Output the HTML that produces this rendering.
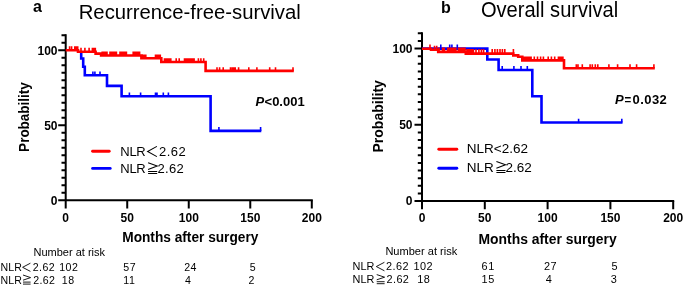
<!DOCTYPE html><html><head><meta charset="utf-8"><style>html,body{margin:0;padding:0;background:#fff;overflow:hidden;}svg{display:block;will-change:transform;filter:blur(0.35px);}text{font-family:"Liberation Sans", sans-serif;fill:#000;}</style></head><body>
<svg width="685" height="286" viewBox="0 0 685 286">
<path d="M65.70,34.20 V208.50" stroke="#000" stroke-width="2.0" fill="none"/>
<path d="M58.20,200.20 H65.70 M61.50,192.70 H65.70 M61.50,185.20 H65.70 M61.50,177.70 H65.70 M61.50,170.20 H65.70 M61.50,162.70 H65.70 M61.50,155.20 H65.70 M61.50,147.70 H65.70 M61.50,140.20 H65.70 M61.50,132.70 H65.70 M58.20,125.20 H65.70 M61.50,117.70 H65.70 M61.50,110.20 H65.70 M61.50,102.70 H65.70 M61.50,95.20 H65.70 M61.50,87.70 H65.70 M61.50,80.20 H65.70 M61.50,72.70 H65.70 M61.50,65.20 H65.70 M61.50,57.70 H65.70 M58.20,50.20 H65.70 M61.50,42.70 H65.70 M61.50,35.20 H65.70" stroke="#000" stroke-width="2.0" fill="none"/>
<path d="M65.70,200.20 H312.80" stroke="#000" stroke-width="2.0" fill="none"/>
<path d="M127.23,200.20 V208.50 M188.75,200.20 V208.50 M250.27,200.20 V208.50 M311.80,200.20 V208.50" stroke="#000" stroke-width="2.0" fill="none"/>
<text x="57.5" y="204.5" font-size="12" font-weight="bold" text-anchor="end"  style="">0</text>
<text x="57.5" y="129.5" font-size="12" font-weight="bold" text-anchor="end"  style="">50</text>
<text x="57.5" y="54.5" font-size="12" font-weight="bold" text-anchor="end"  style="">100</text>
<text x="65.7" y="221.6" font-size="12" font-weight="bold" text-anchor="middle"  style="">0</text>
<text x="127.2" y="221.6" font-size="12" font-weight="bold" text-anchor="middle"  style="">50</text>
<text x="188.8" y="221.6" font-size="12" font-weight="bold" text-anchor="middle"  style="">100</text>
<text x="250.3" y="221.6" font-size="12" font-weight="bold" text-anchor="middle"  style="">150</text>
<text x="311.8" y="221.6" font-size="12" font-weight="bold" text-anchor="middle"  style="">200</text>
<path d="M422.00,32.36 V209.30" stroke="#000" stroke-width="2.0" fill="none"/>
<path d="M414.50,201.00 H422.00 M417.80,193.38 H422.00 M417.80,185.76 H422.00 M417.80,178.14 H422.00 M417.80,170.52 H422.00 M417.80,162.90 H422.00 M417.80,155.28 H422.00 M417.80,147.66 H422.00 M417.80,140.04 H422.00 M417.80,132.42 H422.00 M414.50,124.80 H422.00 M417.80,117.18 H422.00 M417.80,109.56 H422.00 M417.80,101.94 H422.00 M417.80,94.32 H422.00 M417.80,86.70 H422.00 M417.80,79.08 H422.00 M417.80,71.46 H422.00 M417.80,63.84 H422.00 M417.80,56.22 H422.00 M414.50,48.60 H422.00 M417.80,40.98 H422.00 M417.80,33.36 H422.00" stroke="#000" stroke-width="2.0" fill="none"/>
<path d="M422.00,201.00 H674.20" stroke="#000" stroke-width="2.0" fill="none"/>
<path d="M484.80,201.00 V209.30 M547.60,201.00 V209.30 M610.40,201.00 V209.30 M673.20,201.00 V209.30" stroke="#000" stroke-width="2.0" fill="none"/>
<text x="412.5" y="205.3" font-size="12" font-weight="bold" text-anchor="end"  style="">0</text>
<text x="412.5" y="129.1" font-size="12" font-weight="bold" text-anchor="end"  style="">50</text>
<text x="412.5" y="52.9" font-size="12" font-weight="bold" text-anchor="end"  style="">100</text>
<text x="422.0" y="222.4" font-size="12" font-weight="bold" text-anchor="middle"  style="">0</text>
<text x="484.8" y="222.4" font-size="12" font-weight="bold" text-anchor="middle"  style="">50</text>
<text x="547.6" y="222.4" font-size="12" font-weight="bold" text-anchor="middle"  style="">100</text>
<text x="610.4" y="222.4" font-size="12" font-weight="bold" text-anchor="middle"  style="">150</text>
<text x="673.2" y="222.4" font-size="12" font-weight="bold" text-anchor="middle"  style="">200</text>
<path d="M81.20,52.00 L81.20,58.50 L83.20,58.50 L83.20,66.80 L84.80,66.80 L84.80,75.30 L107.00,75.30 L107.00,85.90 L121.60,85.90 L121.60,96.30 L210.60,96.30 L210.60,130.90 L261.30,130.90" fill="none" stroke="#0000ff" stroke-width="2.6" stroke-linejoin="miter" stroke-linecap="butt"/>
<path d="M92.90,75.30 V71.40 M94.90,75.30 V71.40 M100.00,75.30 V71.40" fill="none" stroke="#0000ff" stroke-width="1.6"/>
<path d="M129.40,96.30 V92.40 M140.60,96.30 V92.40 M155.50,96.30 V92.40 M157.00,96.30 V92.40 M163.30,96.30 V92.40 M168.40,96.30 V92.40" fill="none" stroke="#0000ff" stroke-width="1.6"/>
<path d="M218.90,130.90 V127.00 M260.60,130.90 V127.00" fill="none" stroke="#0000ff" stroke-width="1.6"/>
<path d="M65.70,50.30 L78.00,50.30 L78.00,51.80 L95.60,51.80 L95.60,53.60 L101.10,53.60 L101.10,55.50 L141.40,55.50 L141.40,58.30 L161.30,58.30 L161.30,62.00 L205.60,62.00 L205.60,70.90 L293.80,70.90" fill="none" stroke="#ff0000" stroke-width="2.6" stroke-linejoin="miter" stroke-linecap="butt"/>
<path d="M69.60,50.30 V46.30 M71.60,50.30 V46.30 M74.80,50.30 V46.30 M76.30,50.30 V46.30 M77.70,50.30 V46.30" fill="none" stroke="#ff0000" stroke-width="1.6"/>
<path d="M81.00,51.80 V47.80 M84.90,51.80 V47.80 M89.10,51.80 V47.80 M92.40,51.80 V47.80 M93.90,51.80 V47.80 M95.30,51.80 V47.80" fill="none" stroke="#ff0000" stroke-width="1.6"/>
<path d="M102.20,55.50 V51.50 M103.80,55.50 V51.50 M105.40,55.50 V51.50 M107.00,55.50 V51.50 M110.00,55.50 V51.50 M111.60,55.50 V51.50 M113.20,55.50 V51.50 M114.80,55.50 V51.50 M116.40,55.50 V51.50 M120.00,55.50 V51.50 M121.60,55.50 V51.50 M123.20,55.50 V51.50 M124.80,55.50 V51.50 M126.40,55.50 V51.50 M133.20,55.50 V51.50 M134.80,55.50 V51.50 M136.40,55.50 V51.50 M138.00,55.50 V51.50 M139.60,55.50 V51.50" fill="none" stroke="#ff0000" stroke-width="1.6"/>
<path d="M142.60,58.30 V54.50 M144.20,58.30 V54.50 M145.80,58.30 V54.50 M155.50,58.30 V54.50 M157.10,58.30 V54.50 M158.70,58.30 V54.50 M160.30,58.30 V54.50" fill="none" stroke="#ff0000" stroke-width="1.6"/>
<path d="M164.50,62.00 V58.20 M166.10,62.00 V58.20 M167.70,62.00 V58.20 M169.30,62.00 V58.20 M170.80,62.00 V58.20 M176.20,62.00 V58.20 M179.20,62.00 V58.20 M184.50,62.00 V58.20 M186.10,62.00 V58.20 M187.70,62.00 V58.20 M189.30,62.00 V58.20 M190.90,62.00 V58.20 M192.50,62.00 V58.20 M194.10,62.00 V58.20 M198.40,62.00 V58.20 M200.90,62.00 V58.20 M203.70,62.00 V58.20" fill="none" stroke="#ff0000" stroke-width="1.6"/>
<path d="M217.00,70.90 V67.20 M219.60,70.90 V67.20 M223.20,70.90 V67.20 M230.50,70.90 V67.20 M232.20,70.90 V67.20 M233.80,70.90 V67.20 M235.20,70.90 V67.20 M238.60,70.90 V67.20 M248.80,70.90 V67.20 M256.90,70.90 V67.20 M269.70,70.90 V67.20 M275.50,70.90 V67.20 M293.00,70.90 V67.20" fill="none" stroke="#ff0000" stroke-width="1.6"/>
<path d="M422.00,48.60 L487.30,48.60 L487.30,59.50 L498.60,59.50 L498.60,70.00 L532.30,70.00 L532.30,96.30 L541.50,96.30 L541.50,122.50 L622.50,122.50" fill="none" stroke="#0000ff" stroke-width="2.6" stroke-linejoin="miter" stroke-linecap="butt"/>
<path d="M440.80,48.60 V44.40 M449.70,48.60 V44.40 M451.90,48.60 V44.40 M457.30,48.60 V44.40" fill="none" stroke="#0000ff" stroke-width="1.6"/>
<path d="M502.20,70.00 V66.10 M513.90,70.00 V66.10 M521.00,70.00 V66.10 M527.30,70.00 V66.10" fill="none" stroke="#0000ff" stroke-width="1.6"/>
<path d="M578.60,122.50 V118.70 M621.80,122.50 V118.70" fill="none" stroke="#0000ff" stroke-width="1.6"/>
<path d="M422.00,48.70 L431.00,48.70 L431.00,49.80 L438.20,49.80 L438.20,51.90 L465.80,51.90 L465.80,53.60 L513.30,53.60 L513.30,55.40 L518.20,55.40 L518.20,56.80 L522.30,56.80 L522.30,60.40 L564.00,60.40 L564.00,68.30 L654.80,68.30" fill="none" stroke="#ff0000" stroke-width="2.6" stroke-linejoin="miter" stroke-linecap="butt"/>
<path d="M430.00,48.70 V44.40" fill="none" stroke="#ff0000" stroke-width="1.6"/>
<path d="M434.50,49.80 V45.80 M436.70,49.80 V45.80" fill="none" stroke="#ff0000" stroke-width="1.6"/>
<path d="M439.00,51.90 V47.40 M442.60,51.90 V47.40 M444.20,51.90 V47.40 M447.80,51.90 V47.40 M449.40,51.90 V47.40 M451.00,51.90 V47.40 M452.60,51.90 V47.40 M454.20,51.90 V47.40 M455.80,51.90 V47.40 M458.60,51.90 V47.40 M460.20,51.90 V47.40 M461.80,51.90 V47.40 M463.40,51.90 V47.40 M465.00,51.90 V47.40" fill="none" stroke="#ff0000" stroke-width="1.6"/>
<path d="M467.00,53.60 V49.00 M468.60,53.60 V49.00 M470.20,53.60 V49.00 M471.80,53.60 V49.00 M473.40,53.60 V49.00 M476.00,53.60 V49.00 M478.90,53.60 V49.00 M481.40,53.60 V49.00 M483.60,53.60 V49.00 M492.20,53.60 V49.00 M494.90,53.60 V49.00 M497.40,53.60 V49.00 M500.00,53.60 V49.00 M502.40,53.60 V49.00 M504.80,53.60 V49.00 M513.40,53.60 V49.00" fill="none" stroke="#ff0000" stroke-width="1.6"/>
<path d="M523.20,60.40 V56.40 M524.80,60.40 V56.40 M526.40,60.40 V56.40 M528.00,60.40 V56.40 M529.60,60.40 V56.40 M531.10,60.40 V56.40 M534.30,60.40 V56.40 M537.50,60.40 V56.40 M540.60,60.40 V56.40 M543.40,60.40 V56.40 M548.20,60.40 V56.40 M551.40,60.40 V56.40 M554.70,60.40 V56.40 M558.40,60.40 V56.40 M559.80,60.40 V56.40 M561.40,60.40 V56.40 M562.90,60.40 V56.40" fill="none" stroke="#ff0000" stroke-width="1.6"/>
<path d="M576.30,68.30 V64.30 M578.00,68.30 V64.30 M582.30,68.30 V64.30 M590.10,68.30 V64.30 M592.30,68.30 V64.30 M595.30,68.30 V64.30 M597.80,68.30 V64.30 M608.90,68.30 V64.30 M617.60,68.30 V64.30 M630.00,68.30 V64.30 M636.60,68.30 V64.30 M653.90,68.30 V64.30" fill="none" stroke="#ff0000" stroke-width="1.6"/>
<text transform="translate(255.4,105.9) scale(1,1.05)" font-size="13" font-weight="bold"><tspan font-style="italic">P</tspan><tspan dx="0.4">&lt;</tspan><tspan dx="0.1">0.001</tspan></text>
<text transform="translate(615.0,104.0) scale(1,1.05)" font-size="13" font-weight="bold"><tspan font-style="italic">P</tspan><tspan x="9.5" dy="-0.4" font-size="11.5">=</tspan><tspan x="17.6" dy="0.4" letter-spacing="0.42">0.032</tspan></text>
<text x="33.0" y="12.2" font-size="16" font-weight="bold" text-anchor="start"  style="">a</text>
<text x="441.0" y="12.6" font-size="16" font-weight="bold" text-anchor="start"  style="">b</text>
<text transform="translate(78.7,18.6) scale(1,1.035)" font-size="20.3">Recurrence-free-survival</text>
<text transform="translate(480.9,16.7) scale(1,1.1)" font-size="20.1">Overall survival</text>
<text transform="translate(28.9,117.0) rotate(-90) scale(1,1.08)" font-size="13.5" font-weight="bold" text-anchor="middle">Probability</text>
<text transform="translate(383.1,116.3) rotate(-90)" font-size="14" font-weight="bold" text-anchor="middle">Probability</text>
<text transform="translate(190.3,242.1) scale(1,1.05)" font-size="13.7" font-weight="bold" text-anchor="middle">Months after surgery</text>
<text x="547.6" y="243.7" font-size="13.9" font-weight="bold" text-anchor="middle"  style="">Months after surgery</text>
<path d="M92.6,151.3 H109.2" stroke="#ff0000" stroke-width="2.9" stroke-linecap="round"/>
<path d="M92.6,168.4 H110.2" stroke="#0000ff" stroke-width="2.9" stroke-linecap="round"/>
<path d="M438.8,149.2 H456.8" stroke="#ff0000" stroke-width="2.9" stroke-linecap="round"/>
<path d="M438.8,168.3 H456.8" stroke="#0000ff" stroke-width="2.9" stroke-linecap="round"/>
<text x="120.3" y="156.2" font-size="13" font-weight="normal" text-anchor="start" letter-spacing="-0.3" style="">NLR</text>
<path d="M156.90,146.40 L147.60,151.50 L156.90,156.60" fill="none" stroke="#000" stroke-width="1.05"/>
<text x="159.0" y="156.2" font-size="13" font-weight="normal" text-anchor="start" letter-spacing="0.45" style="">2.62</text>
<text x="120.3" y="173.4" font-size="13" font-weight="normal" text-anchor="start" letter-spacing="-0.3" style="">NLR</text>
<path d="M148.10,162.70 L157.20,166.05 L148.10,169.40 M148.10,171.50 H157.20 M148.10,173.50 H157.20" fill="none" stroke="#000" stroke-width="1.05"/>
<text x="157.6" y="173.4" font-size="13" font-weight="normal" text-anchor="start" letter-spacing="0.3" style="">2.62</text>
<text x="466.8" y="152.6" font-size="13.5" font-weight="normal" text-anchor="start"  style="">NLR&lt;2.62</text>
<text x="466.8" y="172.2" font-size="13.5" font-weight="normal" text-anchor="start"  style="">NLR</text>
<path d="M496.40,161.50 L505.50,164.85 L496.40,168.20 M496.40,170.50 H505.50 M496.40,172.50 H505.50" fill="none" stroke="#000" stroke-width="1.05"/>
<text x="505.6" y="172.2" font-size="13.5" font-weight="normal" text-anchor="start"  style="">2.62</text>
<text x="33.5" y="255.8" font-size="11" font-weight="normal" text-anchor="start"  style="">Number at risk</text>
<text x="0.6" y="271.0" font-size="10.6" font-weight="normal" text-anchor="start"  style="">NLR</text>
<path d="M30.40,263.20 L22.60,267.30 L30.40,271.40" fill="none" stroke="#000" stroke-width="0.9"/>
<text x="32.8" y="271.0" font-size="10.6" font-weight="normal" text-anchor="start" letter-spacing="0.4" style="">2.62</text>
<text x="0.6" y="283.6" font-size="10.6" font-weight="normal" text-anchor="start"  style="">NLR</text>
<path d="M23.00,275.00 L30.60,277.60 L23.00,280.20 M23.00,282.10 H30.60 M23.00,284.10 H30.60" fill="none" stroke="#000" stroke-width="0.9"/>
<text x="33.2" y="283.6" font-size="10.6" font-weight="normal" text-anchor="start" letter-spacing="0.4" style="">2.62</text>
<text x="59.2" y="271.0" font-size="10.6" font-weight="normal" text-anchor="start" letter-spacing="0.5" style="">102</text>
<text x="61.8" y="283.6" font-size="10.6" font-weight="normal" text-anchor="start" letter-spacing="0.5" style="">18</text>
<text x="123.3" y="271.0" font-size="10.6" font-weight="normal" text-anchor="start" letter-spacing="0.5" style="">57</text>
<text x="123.3" y="283.6" font-size="10.6" font-weight="normal" text-anchor="start" letter-spacing="0.5" style="">11</text>
<text x="184.2" y="271.0" font-size="10.6" font-weight="normal" text-anchor="start" letter-spacing="0.5" style="">24</text>
<text x="185.0" y="283.6" font-size="10.6" font-weight="normal" text-anchor="start" letter-spacing="0.5" style="">4</text>
<text x="249.8" y="271.0" font-size="10.6" font-weight="normal" text-anchor="start" letter-spacing="0.5" style="">5</text>
<text x="248.6" y="283.6" font-size="10.6" font-weight="normal" text-anchor="start" letter-spacing="0.5" style="">2</text>
<text x="385.4" y="254.8" font-size="11.05" font-weight="normal" text-anchor="start"  style="">Number at risk</text>
<text x="352.6" y="270.4" font-size="10.9" font-weight="normal" text-anchor="start"  style="">NLR</text>
<path d="M384.42,262.29 L376.30,266.54 L384.42,270.80" fill="none" stroke="#000" stroke-width="0.9"/>
<text x="386.11199999999997" y="270.4" font-size="10.9" font-weight="normal" text-anchor="start" letter-spacing="0.4" style="">2.62</text>
<text x="352.6" y="283.2" font-size="10.9" font-weight="normal" text-anchor="start"  style="">NLR</text>
<path d="M376.72,274.60 L384.62,277.20 L376.72,279.80 M376.72,281.70 H384.62 M376.72,283.70 H384.62" fill="none" stroke="#000" stroke-width="0.9"/>
<text x="386.528" y="283.2" font-size="10.9" font-weight="normal" text-anchor="start" letter-spacing="0.4" style="">2.62</text>
<text x="413.4" y="270.4" font-size="10.9" font-weight="normal" text-anchor="start" letter-spacing="0.5" style="">102</text>
<text x="417.3" y="283.2" font-size="10.9" font-weight="normal" text-anchor="start" letter-spacing="0.5" style="">18</text>
<text x="481.6" y="270.4" font-size="10.9" font-weight="normal" text-anchor="start" letter-spacing="0.5" style="">61</text>
<text x="481.6" y="283.2" font-size="10.9" font-weight="normal" text-anchor="start" letter-spacing="0.5" style="">15</text>
<text x="544.0" y="270.4" font-size="10.9" font-weight="normal" text-anchor="start" letter-spacing="0.5" style="">27</text>
<text x="545.8" y="283.2" font-size="10.9" font-weight="normal" text-anchor="start" letter-spacing="0.5" style="">4</text>
<text x="611.4" y="270.4" font-size="10.9" font-weight="normal" text-anchor="start" letter-spacing="0.5" style="">5</text>
<text x="610.8" y="283.2" font-size="10.9" font-weight="normal" text-anchor="start" letter-spacing="0.5" style="">3</text>
</svg></body></html>
